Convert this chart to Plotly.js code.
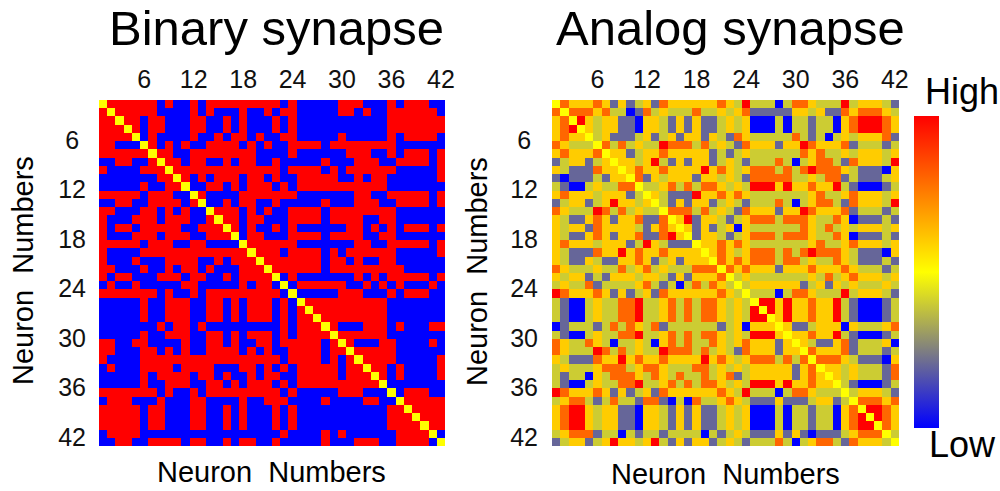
<!DOCTYPE html>
<html>
<head>
<meta charset="utf-8">
<script src="https://cdn.plot.ly/plotly-3.0.1.min.js"></script>
<style>html,body{margin:0;padding:0;background:#fff}#chart{width:1000px;height:491px}</style>
</head>
<body>
<div id="chart"></div>
<script>
// Neuron index along both axes
const neurons = Array.from({length: 42}, (_, i) => i + 1);
const tickValues = [6, 12, 18, 24, 30, 36, 42];
// Cell codes: 0 = low (blue), 1 = high (red), 9 = diagonal (yellow)
const binaryRows = [
"9111111010 0101111111 1101000001 1100010111 00",
"1911111000 0101000100 1011000001 1010011111 10",
"1191101100 0110010100 0101000000 0000011111 11",
"1119101100 0110010100 0101000000 0000011111 11",
"1111901000 0100101101 0011000001 0000010111 10",
"1100091010 1001111010 1001111011 1111110000 00",
"1111119110 0111111110 0001000000 1110010111 01",
"0011001911 0110010110 0100000100 0111001111 01",
"1000011191 1111111111 1101111010 1111110000 01",
"0000000119 1010111011 0100111110 0101100000 01",
"0000010011 9001101011 1010111111 1111100000 00",
"1111101110 0910000111 1111000000 0110011111 01",
"0011001111 0190010110 0100000100 0111001111 01",
"1100011010 1009111010 1001111011 1111110000 00",
"1000111011 1001911011 0001111011 1100110000 00",
"1011011111 0011191010 0101000000 1101010111 01",
"1000111011 1001119011 0001111011 1100110000 00",
"1111101110 0110000911 1111000000 0110011111 01",
"1000011111 1111111191 1101111010 1111110000 01",
"1000100011 1100101119 1111111011 0100110000 00",
"1100010010 1101000111 9111111011 1111111000 00",
"1011000111 0110010111 1901000000 0101011111 01",
"0100100000 1100000101 1090111111 0010101000 10",
"1111111010 0101111111 1109000001 1100010111 00",
"0000010011 1001101011 1010911111 1111100000 00",
"0000010011 1001101011 1010191111 1111100000 00",
"0000010011 1001101011 1010119111 1111100000 00",
"0000000101 1010000000 0010111910 0011101000 11",
"0000010011 1001101011 1010111191 1111100000 00",
"1100110000 1001101001 1011111019 1000110000 10",
"1100011010 1001111010 1001111011 9111110000 00",
"1000011111 1111111111 1101111010 1911110000 01",
"0100011110 1111000110 1010111110 1191101000 01",
"0000010111 1011010010 1100111110 1119101000 01",
"0000010011 1001101011 1010111111 1111900000 00",
"1111111010 0101111111 1101000001 1100090111 00",
"0111000100 0110000100 1110000100 0011009111 11",
"1111101100 0110010100 0101000000 0000011911 11",
"1111101100 0110010100 0101000000 0000011191 11",
"1111101100 0110010100 0101000000 0000011119 11",
"0111100000 0000000000 0010000101 0000001111 90",
"0011001111 0110010110 0100000100 0111001111 09"
];
// Cell codes: 0 blue, 1 slate, 2 olive, 3 amber, 4 orange, 5 red, 9 diagonal
const analogRows = [
"9433343131 2314333333 4325222024 4322252333 21",
"4944434220 1423222422 3234111113 3231143444 32",
"3495323311 0332131311 2323000202 2122034555 43",
"3459323311 0332131311 2323000202 2122034555 43",
"3433923111 2312313313 2143222224 2120232333 41",
"4322294242 3225444242 3214333133 5433341222 12",
"3433349331 2334333331 2123222222 4342232333 23",
"1233123933 2352131331 2321222420 2344214333 25",
"3211143393 4334333353 4323444242 4544432111 03",
"1011121339 4132333133 2321444442 2324412111 23",
"2100232244 9223424244 3232555353 3433521000 12",
"3433323331 2932111533 4343222222 2342234333 23",
"1233123533 2392131331 2321222420 2344214333 25",
"4322254242 3229444242 3214333133 5433341222 12",
"3211343133 4114935133 2123444244 4322430111 21",
"3233143333 2134393131 2303222222 4324232333 23",
"3211343133 4114539133 2123444244 4322430111 21",
"3433323331 2532111933 4343222222 2342234333 23",
"3211143353 4334333393 4323444242 4544432111 03",
"3211321133 4312313339 4343444244 2322432111 21",
"4322232242 3423222444 9434333133 3433343222 12",
"3233121333 2332131333 4923222222 2324234333 23",
"2322412222 3421202424 3292333333 1231323222 32",
"5433343131 2314333333 4329222024 4322252333 21",
"2100232244 5223424244 3232955353 3433521000 12",
"2100232244 5223424244 3232595353 3433521000 12",
"2100232244 5223424244 3232559353 3433521000 12",
"0122212424 3241222222 1230333931 1233303222 34",
"2100232244 5223424244 3232555393 3433521000 12",
"4322432022 3203424224 3234333139 3211341222 30",
"4322254242 3225444242 3214333133 9433341222 12",
"3211143353 4334333353 4323444242 4944432111 03",
"2322234442 3443222442 3232333331 3493323222 14",
"2122032444 3243242242 3412333331 3439323222 14",
"2100232244 5223424244 3232555353 3433921000 12",
"5433343131 2314333333 4325222024 4322292333 21",
"2344212422 1441020422 3432111311 1233129444 34",
"3455323311 0332131311 2323000202 2122034955 43",
"3455323311 0332131311 2323000202 2122034595 43",
"3455323311 0332131311 2323000202 2122034559 43",
"2344412202 1221222202 1232111313 1011123444 92",
"1233123533 2352131331 2321222420 2344214333 29"
];
const binaryLevels = {0: -1, 1: 1, 9: 0};
const analogLevels = {0: -1, 1: -0.6, 2: -0.2, 3: 0.2, 4: 0.6, 5: 1, 9: 0};
const colorStops = [[0, "#0000ff"], [0.5, "#ffff00"], [1, "#ff0000"]];
const panelTitles = ["Binary synapse", "Analog synapse"];
const axisLabel = "Neuron\u00a0\u00a0Numbers";

const decode = (rows, levels) => rows.map(r => r.replace(/ /g, "").split("").map(c => levels[c]));
const H = 491, W = 1000;
const px = v => v / W, py = v => 1 - v / H;

const common = {type: "heatmap", x: neurons, y: neurons, zmin: -1, zmax: 1, zsmooth: false,
  colorscale: colorStops, xgap: 0, ygap: 0};
const traces = [
  Object.assign({}, common, {z: decode(binaryRows, binaryLevels), xaxis: "x", yaxis: "y", showscale: false}),
  Object.assign({}, common, {z: decode(analogRows, analogLevels), xaxis: "x2", yaxis: "y2", showscale: true,
    colorbar: {x: px(914), xanchor: "left", y: py(272), yanchor: "middle", len: 312 / H, lenmode: "fraction",
      thickness: 25, thicknessmode: "pixels", xpad: 0, ypad: 0, outlinewidth: 0, borderwidth: 0,
      tickmode: "array", tickvals: [], showticklabels: false, ticks: ""}})
];
const tickFont = {family: "Liberation Sans, Arial, sans-serif", size: 25, color: "#111"};
const xAxis = (dom, anchor) => ({domain: dom, anchor, side: "top", range: [0.5, 42.5], showgrid: false, zeroline: false,
  showline: false, ticks: "", tickmode: "array", tickvals: tickValues, ticktext: tickValues.map(String),
  tickfont: tickFont, ticklabelstandoff: 6, automargin: false});
const yAxis = (anchor, standoff) => ({domain: [py(446), py(100)], anchor, range: [42.5, 0.5], showgrid: false, zeroline: false,
  showline: false, ticks: "", tickmode: "array", tickvals: tickValues, ticktext: tickValues.map(v => v < 10 ? v + "\u00a0" : String(v)),
  tickfont: tickFont, ticklabelshift: 5, ticklabelstandoff: standoff, automargin: false});
const note = (text, x, y, size, extra) => Object.assign({text, x: px(x), y: py(y), xref: "paper", yref: "paper",
  showarrow: false, xanchor: "center", yanchor: "middle",
  font: {family: "Liberation Sans, Arial, sans-serif", size, color: "#000"}}, extra || {});
const layout = {
  width: W, height: H, margin: {l: 0, r: 0, t: 0, b: 0}, paper_bgcolor: "#fff", plot_bgcolor: "#fff",
  showlegend: false,
  xaxis: xAxis([px(99), px(445)], "y"), yaxis: yAxis("x", 12),
  xaxis2: xAxis([px(552), px(899)], "y2"), yaxis2: yAxis("x2", 13),
  annotations: [
    note(panelTitles[0], 276, 28, 49), note(panelTitles[1], 730, 28, 49),
    note(axisLabel, 271, 472, 29), note(axisLabel, 725, 474, 29),
    note(axisLabel, 23, 271, 29, {textangle: -90}), note(axisLabel, 477, 272, 29, {textangle: -90}),
    note("High", 962, 92, 36), note("Low", 962, 444, 36)
  ]
};
Plotly.newPlot("chart", traces, layout, {displayModeBar: false, staticPlot: true});
</script>
</body>
</html>
